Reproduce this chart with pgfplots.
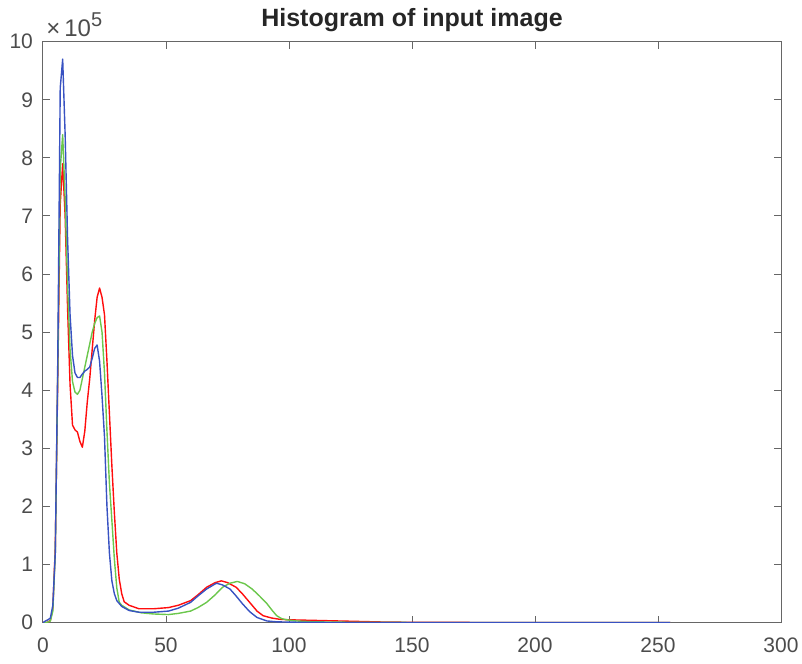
\documentclass[border=0pt]{standalone}
\usepackage{fontspec}
\setmainfont{Liberation Sans}
\usepackage{pgfplots}
\pgfplotsset{compat=1.18}
\definecolor{mred}{rgb}{1,0.05,0.05}
\definecolor{mgreen}{rgb}{0.42,0.78,0.3}
\definecolor{mblue}{rgb}{0.22,0.32,0.76}
\definecolor{axgray}{gray}{0.4}
\definecolor{txtgray}{gray}{0.3}
\begin{document}
\begin{tikzpicture}
\path[use as bounding box] (-21.5pt,-20.15pt) rectangle (379.5pt,311.35pt);
\begin{axis}[
  name=ax,
  at={(0,0)}, anchor=south west,
  scale only axis, width=369pt, height=290.5pt,
  xmin=0, xmax=300, ymin=0, ymax=1000000,
  xtick={0,50,...,300},
  ytick={0,100000,...,1000000},
  scaled y ticks=base 10:-5,
  ytick scale label code/.code={},
  /pgf/number format/assume math mode=true,
  tick label style={font=\fontsize{10.5}{12}\selectfont, text=txtgray},
  xticklabel style={anchor=base, yshift=-15pt},
  yticklabel style={anchor=east, xshift=-1.5pt},
  axis line style={axgray, line width=0.5pt},
  tick style={axgray, line width=0.5pt},
  major tick length=3.5pt,
  tick align=inside,
  clip=true,
]
\addplot[mred, line width=0.7pt, line join=round] coordinates {
(0,0)(1,0)(2,0.01e5)(3,0.04e5)(4,0.25e5)(5,1.3e5)(6,4.2e5)(7,7.2e5)(8,7.9e5)(9,7.0e5)(10,5.4e5)(11,4.1e5)(12,3.4e5)(13,3.32e5)(14,3.28e5)(15,3.12e5)(16,3.02e5)(17,3.3e5)(18,3.8e5)(19,4.2e5)(20,4.7e5)(21,5.2e5)(22,5.6e5)(23,5.76e5)(24,5.6e5)(25,5.3e5)(26,4.5e5)(27,3.6e5)(28,2.7e5)(29,1.9e5)(30,1.2e5)(31,0.75e5)(32,0.5e5)(33,0.36e5)(35,0.3e5)(39,0.24e5)(45,0.24e5)(51,0.26e5)(55,0.3e5)(60,0.38e5)(63,0.48e5)(66.5,0.61e5)(70,0.69e5)(72.5,0.72e5)(75,0.69e5)(78.5,0.61e5)(81,0.5e5)(84,0.35e5)(87,0.2e5)(89.5,0.12e5)(93,0.08e5)(96,0.06e5)(100,0.05e5)(110,0.04e5)(120,0.03e5)(130,0.02e5)(140,0.01e5)(160,0.005e5)(255,0)
};
\addplot[mgreen, line width=0.7pt, line join=round] coordinates {
(0,0)(1,0)(2,0.01e5)(3,0.03e5)(4,0.2e5)(5,1.2e5)(6,4.3e5)(7,7.8e5)(8,8.4e5)(9,7.3e5)(10,5.8e5)(11,4.7e5)(12,4.15e5)(13,3.97e5)(14,3.93e5)(15,4.0e5)(16,4.2e5)(17,4.4e5)(18,4.6e5)(19,4.8e5)(20,5.0e5)(21,5.15e5)(22,5.25e5)(23,5.28e5)(24,5.0e5)(25,4.3e5)(26,3.3e5)(27,2.4e5)(28,1.76e5)(29,1.1e5)(30,0.6e5)(31,0.35e5)(32,0.3e5)(35,0.22e5)(40,0.17e5)(45,0.15e5)(51,0.14e5)(55,0.16e5)(60,0.2e5)(63,0.26e5)(66.5,0.35e5)(70,0.48e5)(73,0.61e5)(76,0.68e5)(79,0.71e5)(82,0.67e5)(85,0.58e5)(88,0.46e5)(91,0.33e5)(93,0.22e5)(95,0.12e5)(97,0.07e5)(99,0.05e5)(103,0.03e5)(110,0.015e5)(130,0.005e5)(255,0)
};
\addplot[mblue, line width=0.7pt, line join=round] coordinates {
(0,0)(1,0.03e5)(2,0.05e5)(3,0.08e5)(4,0.3e5)(5,1.2e5)(6,4.5e5)(7,9.2e5)(8,9.7e5)(9,8.4e5)(10,6.6e5)(11,5.3e5)(12,4.6e5)(13,4.3e5)(14,4.22e5)(15,4.22e5)(16,4.28e5)(17,4.33e5)(18,4.36e5)(19,4.4e5)(20,4.55e5)(21,4.72e5)(22,4.78e5)(23,4.5e5)(24,3.9e5)(25,3.2e5)(26,2.0e5)(27,1.2e5)(28,0.72e5)(29,0.5e5)(30,0.38e5)(32,0.28e5)(35,0.21e5)(39,0.18e5)(45,0.18e5)(51,0.2e5)(55,0.25e5)(60,0.35e5)(63,0.46e5)(66.5,0.58e5)(70.5,0.68e5)(73,0.65e5)(76,0.58e5)(78.5,0.46e5)(81,0.33e5)(84,0.19e5)(87,0.09e5)(91,0.03e5)(95,0.015e5)(100,0.01e5)(110,0.005e5)(130,0.002e5)(255,0)
};
\end{axis}
\node[anchor=base, inner sep=0pt, font=\bfseries\fontsize{12.5}{14}\selectfont, text=black!85] at ([yshift=7.5pt]ax.north) {Histogram of input image};
\node[anchor=base west, inner sep=0pt, font=\fontsize{12}{14}\selectfont, text=txtgray] at ([xshift=1.5pt, yshift=2.5pt]ax.north west) {×\,10\raisebox{0.8ex}{\fontsize{10}{12}\selectfont 5}};
\end{tikzpicture}
\end{document}
